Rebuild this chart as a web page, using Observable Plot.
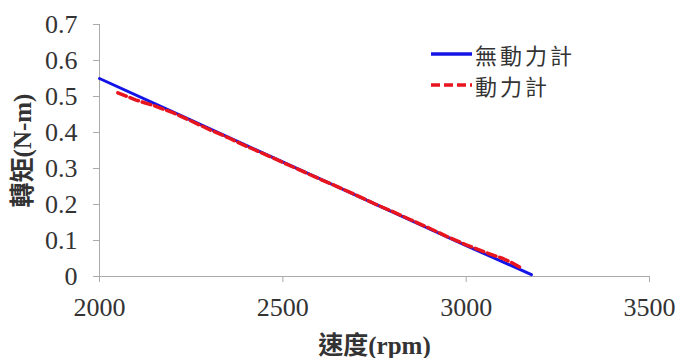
<!DOCTYPE html>
<html><head><meta charset="utf-8">
<script src="https://cdn.jsdelivr.net/npm/d3@7"></script>
<script src="https://cdn.jsdelivr.net/npm/@observablehq/plot@0.6"></script>
<style>
body{margin:0;background:#fff}
#c{position:relative;width:680px;height:358px}
#c svg text, #c svg g[aria-label] {font-family:'Liberation Serif','Times New Roman',Times,'DejaVu Serif','Noto Sans CJK TC',serif !important}
#legend{position:absolute;left:431px;top:38px;font-family:'Noto Sans CJK TC','Noto Sans CJK SC',serif;font-size:22px;letter-spacing:3px;color:#333}
#legend div{display:flex;align-items:center;height:31.5px}
#legend svg{margin-right:3px}
</style></head><body><div id="c"><div id="legend"></div></div>
<script>
// series: 無動力計 (no dynamometer)
const noDynoSpeed  = [2000, 2200, 2400, 2600, 2800, 3000, 3178];
const noDynoTorque = [0.550, 0.457, 0.364, 0.272, 0.179, 0.086, 0.005];
// series: 動力計 (dynamometer)
const dynoSpeed  = [2050, 2075, 2100, 2125, 2150, 2200, 2250, 2300, 2350, 2400, 2450, 2500, 2550, 2600, 2650, 2700, 2750, 2800, 2850, 2900, 2950, 3000, 3050, 3100, 3125, 3150];
const dynoTorque = [0.510, 0.500, 0.490, 0.482, 0.474, 0.455, 0.432, 0.408, 0.386, 0.362, 0.340, 0.317, 0.294, 0.271, 0.249, 0.226, 0.202, 0.180, 0.157, 0.134, 0.110, 0.088, 0.068, 0.050, 0.038, 0.024];
const xTicks = [2000, 2500, 3000, 3500];
const yTicks = [0, 0.1, 0.2, 0.3, 0.4, 0.5, 0.6, 0.7];
const seriesNames = ["無動力計", "動力計"];
const seriesColors = ["#1414e6", "#e8141e"];

const noDyno = noDynoSpeed.map((s, i) => ({speed: s, torque: noDynoTorque[i]}));
const dyno = dynoSpeed.map((s, i) => ({speed: s, torque: dynoTorque[i]}));

const serif = "'Liberation Serif','Times New Roman',Times,'DejaVu Serif','Noto Sans CJK TC',serif";
const chart = Plot.plot({
  width: 680, height: 358,
  marginLeft: 99, marginRight: 31, marginTop: 24, marginBottom: 82,
  style: {fontFamily: serif, background: "#fff", color: "#333"},
  x: {domain: [2000, 3500]},
  y: {domain: [0, 0.7]},
  marks: [
    Plot.ruleX([2000], {stroke: "#aaa"}),
    Plot.ruleY([0], {stroke: "#aaa"}),
    Plot.axisY({ticks: yTicks, tickFormat: d => d === 0 ? "0" : d.toFixed(1), tickSize: 6, tickPadding: 16, stroke: "#aaa", fontSize: 26, fontFamily: serif, label: null}),
    Plot.axisY({ticks: [], label: "轉矩(N-m)", labelAnchor: "center", labelArrow: "none", labelOffset: 86, fontSize: 25, fontFamily: serif, fontWeight: "bold"}),
    Plot.axisX({ticks: xTicks, tickFormat: d => String(d), tickSize: 6, tickPadding: 15, stroke: "#aaa", fontSize: 26, fontFamily: serif, label: null}),
    Plot.axisX({ticks: [], label: "速度(rpm)", labelAnchor: "center", labelArrow: "none", labelOffset: 77, fontSize: 25, fontFamily: serif, fontWeight: "bold"}),
    Plot.line(noDyno, {x: "speed", y: "torque", stroke: seriesColors[0], strokeWidth: 3}),
    Plot.line(dyno, {x: "speed", y: "torque", stroke: seriesColors[1], strokeWidth: 3.5, strokeDasharray: "9,4"})
  ]
});
document.getElementById("c").prepend(chart);

const legend = document.getElementById("legend");
seriesNames.forEach((name, i) => {
  const row = document.createElement("div");
  const dash = i === 1 ? ' stroke-dasharray="9,4"' : '';
  row.innerHTML = `<svg width="41" height="10"><line x1="0" y1="5" x2="41" y2="5" stroke="${seriesColors[i]}" stroke-width="3.5"${dash}/></svg><span>${name}</span>`;
  legend.appendChild(row);
});
</script></body></html>
